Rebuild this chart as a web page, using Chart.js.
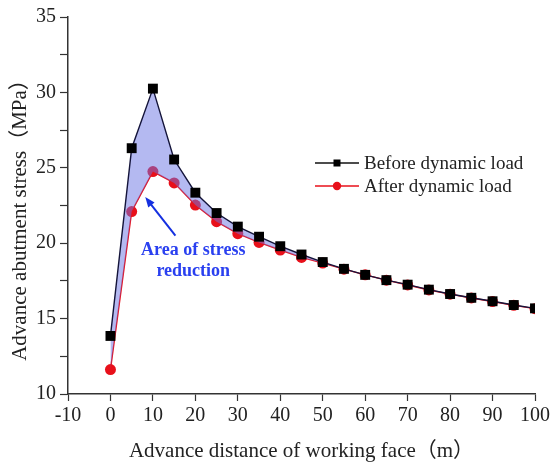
<!DOCTYPE html>
<html>
<head>
<meta charset="utf-8">
<script src="https://cdn.jsdelivr.net/npm/chart.js@4/dist/chart.umd.min.js"></script>
<style>
  html, body { margin: 0; padding: 0; background: #fff; }
  #wrap { width: 550px; height: 465px; }
</style>
</head>
<body>
<div id="wrap"><canvas id="chart" width="550" height="465"></canvas></div>
<script>
const distance = [0, 5, 10, 15, 20, 25, 30, 35, 40, 45, 50, 55, 60, 65, 70, 75, 80, 85, 90, 95, 100];
const beforeLoad = [13.85, 26.3, 30.25, 25.55, 23.35, 22.0, 21.1, 20.43, 19.8, 19.25, 18.75, 18.3, 17.9, 17.55, 17.25, 16.92, 16.63, 16.38, 16.15, 15.9, 15.68];
const afterLoad = [11.62, 22.1, 24.75, 24.0, 22.53, 21.43, 20.63, 20.05, 19.55, 19.06, 18.68, 18.28, 17.9, 17.55, 17.23, 16.9, 16.62, 16.37, 16.13, 15.88, 15.66];
const xTickLabels = [-10, 0, 10, 20, 30, 40, 50, 60, 70, 80, 90, 100];
const yTickLabels = [10, 15, 20, 25, 30, 35];
const seriesNames = ['Before dynamic load', 'After dynamic load'];
const yTitle = 'Advance abutment stress（MPa）';
const xTitle = 'Advance distance of working face（m）';

// annotation anchor points in data units
const noteText = ['Area of stress', 'reduction'];
const noteAt = { x: 19.5, y: [19.55, 18.15] };
const arrowFrom = { x: 15.3, y: 20.5 };
const arrowTo = { x: 8.2, y: 23.06 };

const serif = "'Liberation Serif', 'Noto Sans CJK SC', serif";
const pts = (ys) => distance.map((x, i) => ({ x: x, y: ys[i] }));

// legend with line + marker samples, drawn inside the plot
const legendPlugin = {
  id: 'lineLegend',
  afterDraw(chart) {
    const ctx = chart.ctx;
    const rows = [
      { name: seriesNames[0], color: '#111', marker: 'rect', fill: '#000' },
      { name: seriesNames[1], color: '#e8101a', marker: 'circle', fill: '#e8101a' }
    ];
    ctx.save();
    ctx.font = '19px ' + serif;
    ctx.textBaseline = 'middle';
    rows.forEach((r, i) => {
      const y = 163 + i * 23;
      ctx.strokeStyle = r.color;
      ctx.lineWidth = 1.3;
      ctx.beginPath();
      ctx.moveTo(315, y);
      ctx.lineTo(359, y);
      ctx.stroke();
      ctx.fillStyle = r.fill;
      if (r.marker === 'rect') {
        ctx.fillRect(333.5, y - 3.5, 7, 7);
      } else {
        ctx.beginPath();
        ctx.arc(337, y, 4.2, 0, Math.PI * 2);
        ctx.fill();
      }
      ctx.fillStyle = '#222';
      ctx.fillText(r.name, 364, y + 1);
    });
    ctx.restore();
  }
};

// y title sits a bit below the middle of the axis in the original
const yTitlePlugin = {
  id: 'yTitle',
  afterDraw(chart) {
    const ctx = chart.ctx;
    ctx.save();
    ctx.translate(20, 215);
    ctx.rotate(-Math.PI / 2);
    ctx.font = '21px ' + serif;
    ctx.fillStyle = '#222';
    ctx.textAlign = 'center';
    ctx.textBaseline = 'middle';
    ctx.fillText(yTitle, 0, 0);
    ctx.restore();
  }
};

const notePlugin = {
  id: 'stressNote',
  afterDatasetsDraw(chart) {
    const ctx = chart.ctx;
    const xs = chart.scales.x, ys = chart.scales.y;
    const x0 = xs.getPixelForValue(arrowFrom.x), y0 = ys.getPixelForValue(arrowFrom.y);
    const x1 = xs.getPixelForValue(arrowTo.x), y1 = ys.getPixelForValue(arrowTo.y);
    const ang = Math.atan2(y1 - y0, x1 - x0);
    ctx.save();
    ctx.strokeStyle = '#1530e0';
    ctx.fillStyle = '#1530e0';
    ctx.lineWidth = 2;
    ctx.beginPath();
    ctx.moveTo(x0, y0);
    ctx.lineTo(x1 - 6 * Math.cos(ang), y1 - 6 * Math.sin(ang));
    ctx.stroke();
    ctx.beginPath();
    ctx.moveTo(x1, y1);
    ctx.lineTo(x1 - 10 * Math.cos(ang) + 4 * Math.sin(ang), y1 - 10 * Math.sin(ang) - 4 * Math.cos(ang));
    ctx.lineTo(x1 - 10 * Math.cos(ang) - 4 * Math.sin(ang), y1 - 10 * Math.sin(ang) + 4 * Math.cos(ang));
    ctx.closePath();
    ctx.fill();

    ctx.font = 'bold 18px ' + serif;
    ctx.fillStyle = '#2a40f0';
    ctx.textAlign = 'center';
    ctx.textBaseline = 'middle';
    noteText.forEach((t, i) => {
      ctx.fillText(t, xs.getPixelForValue(noteAt.x), ys.getPixelForValue(noteAt.y[i]));
    });
    ctx.restore();
  }
};

new Chart(document.getElementById('chart'), {
  type: 'line',
  data: {
    datasets: [
      {
        label: seriesNames[0],
        data: pts(beforeLoad),
        borderColor: '#14143a',
        borderWidth: 1.4,
        pointStyle: 'rect',
        pointRadius: 7,
        pointBackgroundColor: '#000',
        pointBorderColor: '#000',
        pointBorderWidth: 0,
        fill: { target: 1 },
        backgroundColor: 'rgba(105, 115, 228, 0.5)',
        tension: 0
      },
      {
        label: seriesNames[1],
        data: pts(afterLoad),
        borderColor: '#e8101a',
        borderWidth: 1.4,
        pointStyle: 'circle',
        pointRadius: 5.5,
        pointBackgroundColor: '#e8101a',
        pointBorderColor: '#e8101a',
        pointBorderWidth: 0,
        fill: false,
        tension: 0
      }
    ]
  },
  options: {
    responsive: false,
    animation: false,
    layout: { padding: { top: 17, right: 15, left: 0, bottom: 0 } },
    plugins: {
      legend: { display: false },
      tooltip: { enabled: false }
    },
    scales: {
      x: {
        type: 'linear',
        min: -10,
        max: 100,
        border: { display: true, color: '#333', width: 1.5 },
        grid: { display: true, drawOnChartArea: false, tickLength: 7, tickColor: '#333', tickWidth: 1.2 },
        ticks: {
          stepSize: 10,
          padding: 3,
          color: '#222',
          font: { family: serif, size: 20 },
          maxRotation: 0,
          callback: (v) => xTickLabels.includes(v) ? String(v) : ''
        },
        title: {
          display: true,
          text: xTitle,
          color: '#222',
          font: { family: serif, size: 21 },
          padding: { top: 0, bottom: 1 }
        },
        afterFit: (s) => { s.height = 71; s.paddingLeft = 0; s.paddingRight = 0; }
      },
      y: {
        type: 'linear',
        min: 10,
        max: 35,
        border: { display: true, color: '#333', width: 1.5 },
        grid: { display: true, drawOnChartArea: false, tickLength: 8, tickColor: '#333', tickWidth: 1.2 },
        ticks: {
          stepSize: 2.5,
          padding: 4,
          color: '#222',
          font: { family: serif, size: 20 },
          callback: (v) => yTickLabels.includes(v) ? String(v) : ''
        },
        title: { display: false },
        afterFit: (s) => { s.width = 68; s.paddingTop = 0; s.paddingBottom = 0; }
      }
    }
  },
  plugins: [legendPlugin, yTitlePlugin, notePlugin]
});
</script>
</body>
</html>
